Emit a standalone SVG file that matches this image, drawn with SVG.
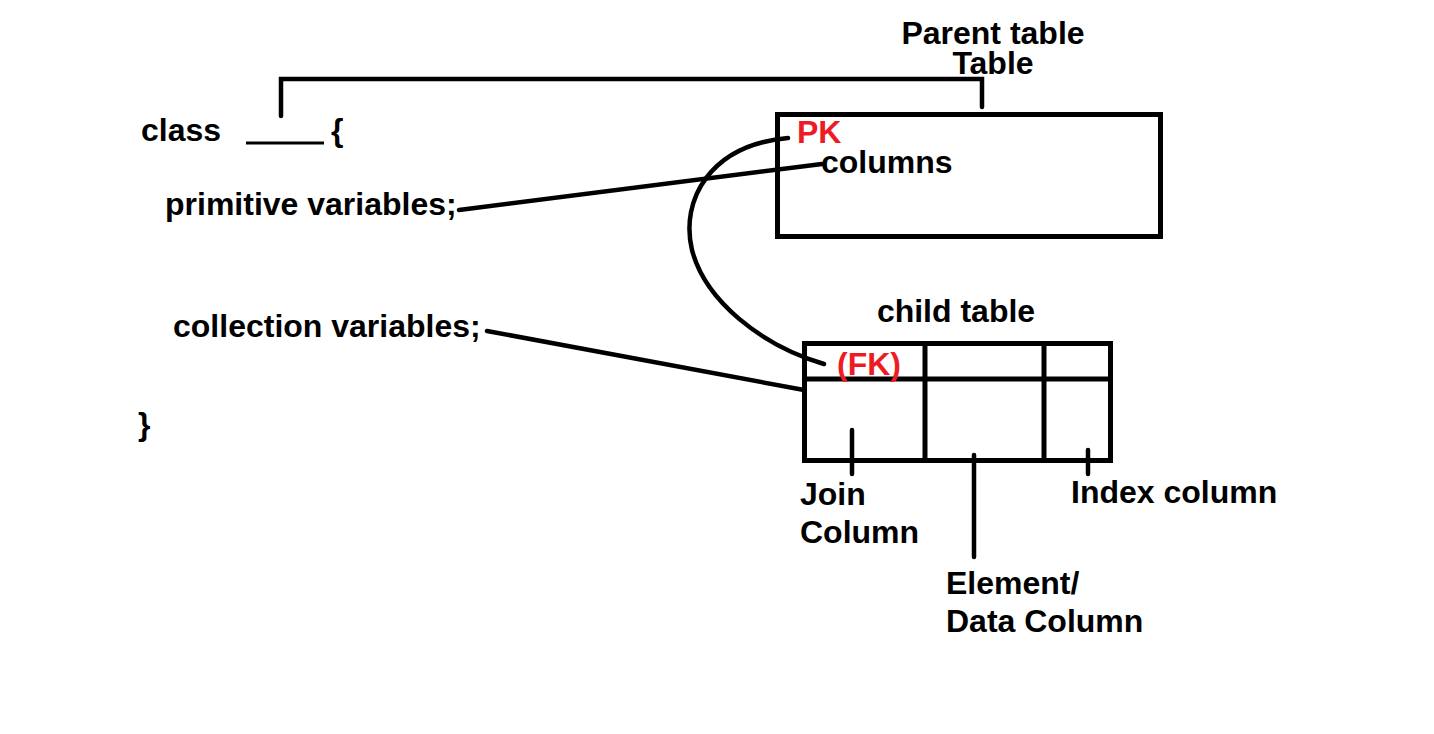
<svg xmlns="http://www.w3.org/2000/svg" width="1434" height="734" viewBox="0 0 1434 734">
<style>
text{font-family:"Liberation Sans",Arial,sans-serif;font-weight:bold;font-size:32px;fill:#000}
.red{fill:#ed1c24}
.ln{stroke:#000;stroke-width:4.5;fill:none;stroke-linecap:round}
.bx{stroke:#000;stroke-width:5;fill:none}
</style>
<rect width="1434" height="734" fill="#fff"/>
<g id="class-code">
<text x="141" y="141">class</text>
<line x1="246" y1="143" x2="324" y2="143" stroke="#000" stroke-width="3"/>
<text x="331" y="141">{</text>
<text x="165" y="215">primitive variables;</text>
<text x="173" y="337">collection variables;</text>
<text x="138" y="435">}</text>
</g>
<g id="parent-table">
<text x="993" y="44" text-anchor="middle">Parent table</text>
<text x="993" y="74" text-anchor="middle">Table</text>
<rect class="bx" x="777.5" y="114.5" width="383" height="122"/>
<text class="red" x="797" y="143">PK</text>
<text x="821" y="173">columns</text>
</g>
<g id="child-table">
<text x="956" y="322" text-anchor="middle">child table</text>
<rect class="bx" x="804.5" y="343.5" width="306" height="117"/>
<line class="bx" x1="804" y1="379" x2="1111" y2="379"/>
<line class="bx" x1="925" y1="344" x2="925" y2="460"/>
<line class="bx" x1="1044" y1="344" x2="1044" y2="460"/>
<text class="red" x="837" y="375">(FK)</text>
</g>
<g id="labels">
<text x="800" y="505">Join</text>
<text x="800" y="543">Column</text>
<text x="946" y="594">Element/</text>
<text x="946" y="632">Data Column</text>
<text x="1071" y="503">Index column</text>
</g>
<g id="connectors">
<path class="ln" d="M281,116 L281,79 L982,79 L982,107" stroke-linecap="butt"/>
<line class="ln" x1="459" y1="210" x2="822" y2="164"/>
<line class="ln" x1="487" y1="331" x2="804" y2="390"/>
<path class="ln" d="M788,138 C710,145 680,200 692,250 C705,300 760,345 824,364"/>
<line class="ln" x1="852" y1="430" x2="852" y2="474"/>
<line class="ln" x1="974" y1="455" x2="974" y2="557"/>
<line class="ln" x1="1088" y1="450" x2="1088" y2="474"/>
</g>
</svg>
